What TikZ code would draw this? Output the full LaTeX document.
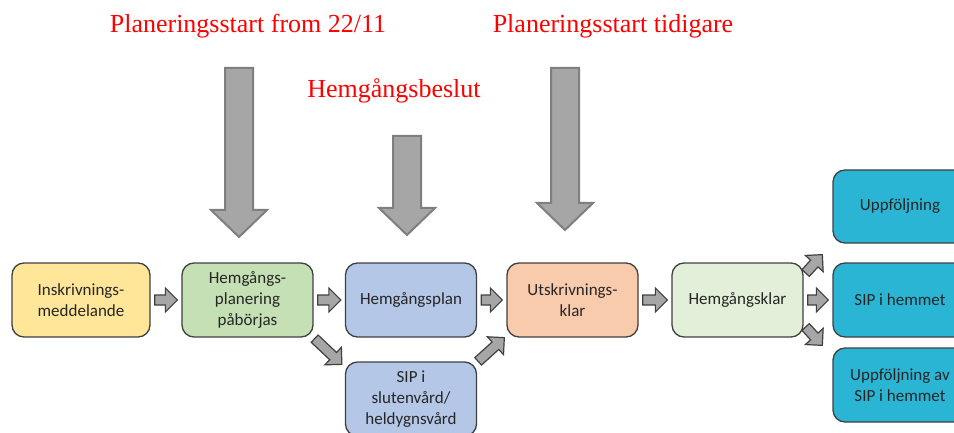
\documentclass[tikz,border=0pt]{standalone}
\usepackage{fontspec}
\setmainfont{Carlito}
\newfontfamily\labelfont{Liberation Serif}
\usetikzlibrary{calc}

\definecolor{boxline}{HTML}{404040}
\definecolor{boxtext}{HTML}{262626}
\definecolor{insfill}{HTML}{FFE699}
\definecolor{startfill}{HTML}{C5E0B4}
\definecolor{planfill}{HTML}{B4C7E7}
\definecolor{klarfill}{HTML}{F8CBAD}
\definecolor{hemfill}{HTML}{E2F0D9}
\definecolor{followfill}{HTML}{2BB5D5}
\definecolor{arrowfill}{HTML}{A6A6A6}
\definecolor{bigline}{HTML}{7F7F7F}

\tikzset{
  stepbox/.style={draw=boxline, line width=1.3pt, rounded corners=12pt,
    minimum width=131pt, minimum height=74pt, inner sep=0pt, align=center,
    text=boxtext, font=\fontsize{17}{21}\selectfont},
  redlabel/.style={text=red, font=\labelfont\fontsize{26}{30}\selectfont,
    anchor=base, inner sep=0pt},
  bigarrow/.style={fill=arrowfill, draw=bigline, line width=2pt},
  smallarrow/.style={fill=arrowfill, draw=boxline, line width=1.2pt}
}

% block arrow: [style]{tail}{tip}{shaft half width}{head half width}{head length}
\newcommand{\blockarrow}[6][]{%
  \coordinate (ba-c) at ($(#3)!#6!(#2)$);
  \draw[#1] ($(#2)!#4!90:(#3)$) -- ($(ba-c)!#4!90:(#3)$)
    -- ($(ba-c)!#5!90:(#3)$) -- (#3) -- ($(ba-c)!#5!-90:(#3)$)
    -- ($(ba-c)!#4!-90:(#3)$) -- ($(#2)!#4!-90:(#3)$) -- cycle;}

\begin{document}
\begin{tikzpicture}[x=1pt, y=-1pt]

    \useasboundingbox (0,0) rectangle (954,433);
    \clip (0,0) rectangle (954,433);

    % labels
    \node [redlabel] (lab1) at (248,33) {Planeringsstart from 22/11};
    \node [redlabel] (lab2) at (394,98) {Hemgångsbeslut};
    \node [redlabel] (lab3) at (613,33) {Planeringsstart tidigare};

    % steps
    \node [stepbox, fill=insfill, minimum width=138pt] (ins) at (81,300) {Inskrivnings-\\meddelande};
    \node [stepbox, fill=startfill] (hpg) at (247.5,300) {Hemgångs-\\planering\\påbörjas};
    \node [stepbox, fill=planfill] (hplan) at (411,300) {Hemgångsplan};
    \node [stepbox, fill=planfill] (sip) at (411,399) {SIP i\\slutenvård/\\heldygnsvård};
    \node [stepbox, fill=klarfill] (utsk) at (572.5,300) {Utskrivnings-\\klar};
    \node [stepbox, fill=hemfill] (hklar) at (737.5,300) {Hemgångsklar};

    \node [stepbox, fill=followfill, minimum width=134pt, minimum height=73pt] (uppf) at (900,206.5) {Uppföljning};
    \node [stepbox, fill=followfill, minimum width=134pt] (siphem) at (900,300) {SIP i hemmet};
    \node [stepbox, fill=followfill, minimum width=134pt] (uppfsip) at (900,385) {Uppföljning av\\SIP i hemmet};

    % big arrows
    \coordinate (t1) at (239,68);
    \coordinate (h1) at (239,237);
    \coordinate (t2) at (407,136);
    \coordinate (h2) at (407,235);
    \coordinate (t3) at (565,68);
    \coordinate (h3) at (565,230);
    \blockarrow[bigarrow]{t1}{h1}{14pt}{28pt}{27pt}
    \blockarrow[bigarrow]{t2}{h2}{14pt}{28pt}{27pt}
    \blockarrow[bigarrow]{t3}{h3}{14pt}{28pt}{27pt}

    % small arrows
    \foreach \a/\b in {ins/hpg, hpg/hplan, hplan/utsk, utsk/hklar, hklar/siphem}{
        \coordinate (\a-out) at ($(\a.east)+(4,0)$);
        \coordinate (\b-in) at ($(\b.west)+(-4,0)$);
        \blockarrow[smallarrow]{\a-out}{\b-in}{5pt}{12pt}{12pt}
    }

    \coordinate (hpg-dn) at ($(hpg.south east)+(1,1)$);
    \coordinate (sip-in) at ($(sip.north west)+(-3,3)$);
    \blockarrow[smallarrow]{hpg-dn}{sip-in}{5pt}{12pt}{12pt}

    \coordinate (sip-out) at ($(sip.north east)+(1,0)$);
    \coordinate (utsk-up) at ($(utsk.south west)+(-2,0)$);
    \blockarrow[smallarrow]{sip-out}{utsk-up}{5pt}{12pt}{12pt}

    \coordinate (hklar-up) at ($(hklar.east)+(2,-27)$);
    \coordinate (uppf-in) at ($(uppf.south west)+(-10,11)$);
    \blockarrow[smallarrow]{hklar-up}{uppf-in}{5pt}{12pt}{12pt}

    \coordinate (hklar-dn) at ($(hklar.east)+(2,27)$);
    \coordinate (uppfsip-in) at ($(uppfsip.north west)+(-10,-2)$);
    \blockarrow[smallarrow]{hklar-dn}{uppfsip-in}{5pt}{12pt}{12pt}

\end{tikzpicture}
\end{document}
